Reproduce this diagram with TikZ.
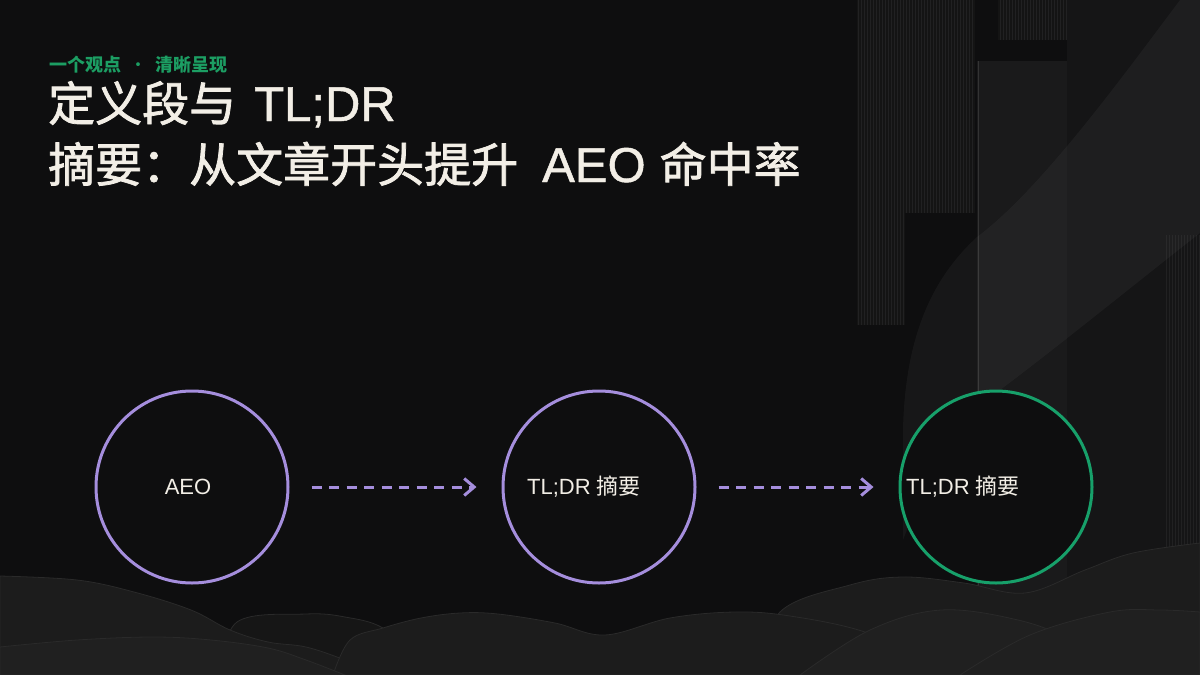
\documentclass[tikz,border=0pt]{standalone}
\usepackage{fontspec}
\setmainfont{Liberation Sans}
\newfontfamily\cjk{Noto Sans CJK SC}
\newfontfamily\tcjk{Noto Sans CJK SC}[FakeBold=1.6]
\newfontfamily\tlat{Liberation Sans}[FakeBold=1.0]
\usetikzlibrary{arrows.meta}
\definecolor{bgc}{HTML}{0E0E0F}
\definecolor{cream}{HTML}{F2EEE6}
\definecolor{lav}{HTML}{A58EDD}
\definecolor{grn}{HTML}{17A06A}
\definecolor{hdr}{HTML}{1C9E63}
\definecolor{panelA}{HTML}{141414}
\definecolor{panelB}{HTML}{1A1A1B}
\definecolor{panelC}{HTML}{151516}
\definecolor{stripe}{HTML}{212122}
\definecolor{edgeline}{HTML}{333333}
\definecolor{hillA}{HTML}{161616}
\definecolor{hillB}{HTML}{1C1C1C}
\definecolor{hillC}{HTML}{202020}
\definecolor{hillE}{HTML}{2A2A2A}
\tikzset{
  circ/.style={circle, draw=lav, fill=bgc, line width=3pt, minimum size=192pt, inner sep=0pt},
  circg/.style={circ, draw=grn},
  lbl/.style={text=cream, font=\fontsize{22}{26}\selectfont, inner sep=0pt},
  flow/.style={draw=lav, line width=3pt, dash pattern=on 10pt off 7.5pt,
    -{Straight Barb[length=10pt,width=17pt,line width=3pt]}, shorten <=22pt, shorten >=25pt},
  hill/.style={draw=hillE, line width=0.8pt},
  ttl/.style={anchor=base west, inner sep=0pt, text=cream, font=\fontsize{47}{52}\selectfont},
}
\begin{document}
\begin{tikzpicture}[x=1pt,y=-1pt]
\useasboundingbox (0,0) rectangle (1200,675);
\fill[bgc] (0,0) rectangle (1200,675);
% ---------- right side panels ----------
\fill[panelA] (857,0) rectangle (975,213);
\fill[panelA] (857,213) rectangle (905,325);
\foreach \x in {858,861,...,974} {\draw[stripe, line width=0.8pt] (\x,0) -- (\x,213);}
\foreach \x in {858,861,...,904} {\draw[stripe, line width=0.8pt] (\x,213) -- (\x,325);}
\fill[panelC] (1067,0) rectangle (1200,600);
\fill[panelA] (998,0) rectangle (1067,40);
\foreach \x in {1000,1003,...,1066} {\draw[stripe, line width=0.8pt] (\x,0) -- (\x,40);}
\fill[panelB] (977,61) rectangle (1067,600);
\draw[edgeline, line width=1pt] (978,61) -- (978,600);
\foreach \x in {1166,1169,...,1199} {\draw[stripe, line width=0.8pt] (\x,235) -- (\x,600);}
% swoosh band
\fill[white, opacity=0.04] (1180,0) .. controls (1120,80) and (1040,190) .. (977,237)
  .. controls (930,280) and (905,340) .. (903,430)
  -- (903,540) .. controls (930,470) and (960,420) .. (1000,390)
  .. controls (1060,345) and (1140,280) .. (1200,233) -- (1200,0) -- cycle;
% ---------- bottom hills ----------
\fill[hillB, hill] plot[smooth, tension=0.6] coordinates {(760,675) (780,612) (850,585) (903,577) (964,583) (1025,593) (1085,570) (1133,553) (1200,543)} -- (1200,675) -- cycle;
\fill[hillA, hill] plot[smooth, tension=0.6] coordinates {(220,675) (237,622) (306,614) (345,617) (383,628) (420,660)} -- cycle;
\fill[hillB, hill] plot[smooth, tension=0.6] coordinates {(0,576) (77,580) (134,592) (191,610) (230,630) (268,642) (306,647) (345,660) (380,675)} -- (0,675) -- cycle;
\fill[hillB, hill] plot[smooth, tension=0.6] coordinates {(333,675) (350,640) (383,628) (421,618) (460,613) (498,614) (555,623) (605,635) (670,618) (735,612) (790,616) (865,632) (940,665) (960,675)} -- cycle;
\fill[hillC, hill] plot[smooth, tension=0.6] coordinates {(0,647) (77,640) (153,637) (211,640) (268,648) (306,660) (345,675)} -- (0,675) -- cycle;
\fill[hillC, hill] plot[smooth, tension=0.6] coordinates {(800,675) (870,630) (941,610) (1018,620) (1070,640) (1120,675)} -- cycle;
\fill[hillC, hill] plot[smooth, tension=0.6] coordinates {(960,675) (1030,635) (1110,612) (1160,610) (1200,612)} -- (1200,675) -- cycle;
% ---------- header & title ----------
\node[anchor=base west, inner sep=0pt, text=hdr, font=\cjk\bfseries\fontsize{18}{20}\selectfont] (hd) at (49,71) {一个观点\hspace{8pt}{\mdseries·}\hspace{8pt}清晰呈现};
\node[ttl] (t1) at (48,121) {{\tcjk 定义段与}\hspace{18pt}{\tlat\fontsize{49}{52}\selectfont TL;DR}};
\node[ttl] (t2) at (48,182) {{\tcjk 摘要：从文章开头提升}\hspace{24pt}{\tlat\fontsize{49}{52}\selectfont AEO}\hspace{14pt}{\tcjk 命中率}};
% ---------- circles ----------
\node[circ] (c1) at (192,487) {};
\node[circ] (c2) at (599,487) {};
\node[circg] (c3) at (996,487) {};
\node[lbl] (l1) at (188,487) {AEO};
\node[lbl] (l2) at (584,487) {TL;DR {\cjk 摘要}};
\node[lbl] (l3) at (963,487) {TL;DR {\cjk 摘要}};
\draw[flow] (c1.east) -- (c2.west);
\draw[flow] (c2.east) -- (c3.west);
\end{tikzpicture}
\end{document}
